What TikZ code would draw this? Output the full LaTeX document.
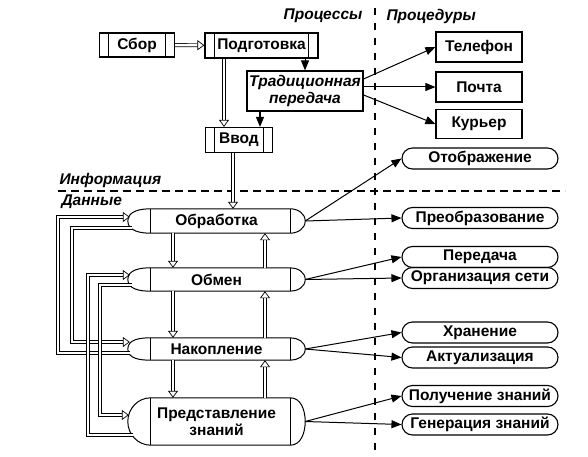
\documentclass[tikz,border=0pt]{standalone}
\usepackage{fontspec}
\setmainfont{Liberation Sans}
\usetikzlibrary{arrows.meta,positioning}

\newcommand{\nfont}{\fontsize{15.5}{17}\selectfont\bfseries}
% bulged process outline round a named node
\newcommand{\procshape}[1]{%
  \draw[line width=1pt,line join=round] ([xshift=23pt]#1.north west) -- ([xshift=-15pt]#1.north east)
    to[out=0,in=90] (#1.east) to[out=-90,in=0] ([xshift=-15pt]#1.south east)
    -- ([xshift=23pt]#1.south west)
    to[out=180,in=-90] (#1.west) to[out=90,in=180] ([xshift=23pt]#1.north west);
  \draw[line width=1pt] ([xshift=23pt]#1.north west) -- ([xshift=23pt]#1.south west)
    ([xshift=-15pt]#1.north east) -- ([xshift=-15pt]#1.south east);}
% inner side bars of a box
\newcommand{\sidebars}[1]{%
  \draw[line width=1pt] ([xshift=10pt]#1.north west) -- ([xshift=10pt]#1.south west)
    ([xshift=-10pt]#1.north east) -- ([xshift=-10pt]#1.south east);}

\tikzset{
  lbl/.style={font=\nfont\itshape},
  pbox/.style={draw,line width=1.2pt,inner sep=0pt,font=\nfont},
  proc/.style={inner sep=0pt,minimum width=177pt,font=\nfont,align=center},
  pcap/.style={draw,line width=1.1pt,rounded corners=10.5pt,minimum width=156pt,
    minimum height=21pt,inner sep=0pt,font=\nfont},
  dbl/.style={double,double distance=2.5pt,line width=0.7pt,
    -{Triangle[open,length=7pt,width=10pt]}},
  arr/.style={line width=1pt,-{Triangle[length=10pt,width=8pt]}},
  hsep/.style={line width=1.3pt,dash pattern=on 8pt off 5pt},
  vsep/.style={line width=1.3pt,dash pattern=on 7pt off 8pt}
}

\begin{document}
\begin{tikzpicture}[x=1pt,y=-1pt]
 \useasboundingbox (0,0) rectangle (588,457);

 % headings and separators
 \node[lbl,anchor=east] (prc) at (366,16) {Процессы};
 \node[lbl,anchor=west] (prd) at (383,16) {Процедуры};
 \node[lbl,anchor=west] (inf) at (56,180) {Информация};
 \node[lbl,anchor=west] (dat) at (58,202) {Данные};
 \draw[hsep] (58,191) -- (565,191);
 \draw[vsep] (375,8) -- (375,452);

 % upper chain
 \node[pbox,minimum width=75pt,minimum height=24pt] (sbor) at (137,45) {Сбор};
 \node[pbox,minimum width=113pt,minimum height=25pt] (podg) at (261.5,45.5) {Подготовка};
 \node[pbox,minimum width=116pt,minimum height=40pt,font=\nfont\itshape,align=center]
   (trad) at (305,91) {Традиционная\\передача};
 \node[pbox,minimum width=67pt,minimum height=25pt] (vvod) at (239,140) {Ввод};
 \sidebars{sbor} \sidebars{podg} \sidebars{vvod}

 \node[pbox,minimum width=86pt,minimum height=30pt] (tel) at (479,47) {Телефон};
 \node[pbox,minimum width=86pt,minimum height=30pt] (pocht) at (479,87) {Почта};
 \node[pbox,minimum width=86pt,minimum height=29pt] (kur) at (479,124) {Курьер};

 % processes
 \node[proc,minimum height=24pt] (obr) at (216.5,221) {Обработка};
 \node[proc,minimum height=23pt] (obm) at (216.5,279.5) {Обмен};
 \node[proc,minimum height=22pt] (nak) at (216.5,349) {Накопление};
 \node[proc,minimum height=47pt] (pred) at (216.5,421.5) {Представление\\знаний};
 \procshape{obr} \procshape{obm} \procshape{nak} \procshape{pred}

 % procedures
 \node[pcap] (otob) at (480,158.5) {Отображение};
 \node[pcap] (preo) at (480,218) {Преобразование};
 \node[pcap] (pere) at (480,257) {Передача};
 \node[pcap] (orgs) at (480,278) {Организация сети};
 \node[pcap] (hran) at (480,332.5) {Хранение};
 \node[pcap] (aktu) at (480,357.5) {Актуализация};
 \node[pcap] (polu) at (480,396) {Получение знаний};
 \node[pcap] (gene) at (480,424.5) {Генерация знаний};

 \coordinate (pv) at (224,0);
 \coordinate (vo) at (233,0);
 \coordinate (dn) at (173,0);
 \coordinate (up) at (265,0);

 \draw[dbl] (sbor) -- (podg);
 \draw[dbl] (pv |- podg.south) -- (pv |- vvod.north);
 \draw[arr] (trad.north |- podg.south) -- (trad.north);
 \draw[arr,line width=1.4pt] ([xshift=-45pt]trad.south) -- ([xshift=21pt]vvod.north);
 \draw[dbl] (vo |- vvod.south) -- (vo |- obr.north);

 \draw[arr] ([yshift=12pt]trad.east) -- (tel.west);
 \draw[arr] ([yshift=4pt]trad.east) -- (pocht.west);
 \draw[arr] ([yshift=-4pt]trad.east) -- (kur.west);

 \draw[dbl] (obr.south -| dn) -- (obm.north -| dn);
 \draw[dbl] (obm.south -| dn) -- (nak.north -| dn);
 \draw[dbl] (nak.south -| dn) -- (pred.north -| dn);
 \draw[dbl] (obm.north -| up) -- (obr.south -| up);
 \draw[dbl] (nak.north -| up) -- (obm.south -| up);
 \draw[dbl] (pred.north -| up) -- (nak.south -| up);

 % feedback loops
 \draw[dbl] ([shift={(4pt,-7pt)}]obr.west) -| (72,342) -- ([shift={(2pt,7pt)}]nak.west);
 \draw[dbl] ([shift={(2pt,-4pt)}]nak.west) -| (58,217) -- ([shift={(2pt,4pt)}]obr.west);
 \draw[dbl] ([shift={(4pt,-5.5pt)}]obm.west) -| (100,415) -- ([shift={(1pt,6.5pt)}]pred.west);
 \draw[dbl] ([shift={(5pt,-13.5pt)}]pred.west) -| (88,275) -- ([shift={(2pt,4.5pt)}]obm.west);

 \draw[arr] (obr.east) -- (otob.west);
 \draw[arr] (obr.east) -- (preo.west);
 \draw[arr] (obm.east) -- (pere.west);
 \draw[arr] (obm.east) -- (orgs.west);
 \draw[arr] (nak.east) -- (hran.west);
 \draw[arr] (nak.east) -- (aktu.west);
 \draw[arr] (pred.east) -- (polu.west);
 \draw[arr] (pred.east) -- (gene.west);
\end{tikzpicture}
\end{document}
